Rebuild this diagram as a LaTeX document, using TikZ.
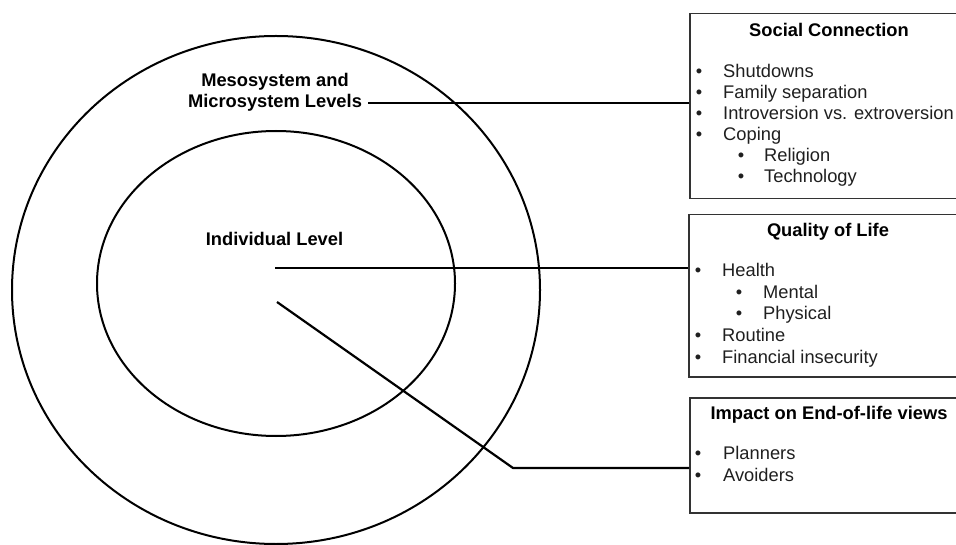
\documentclass[tikz,border=0pt]{standalone}
\usepackage{fontspec}
\setmainfont{Liberation Sans}
\usetikzlibrary{shapes.geometric}
\begin{document}
\begin{tikzpicture}[x=1pt,y=-1pt,
  lbl/.style={font=\fontsize{18.3}{21}\selectfont, inner sep=0pt, text=black!88},
  ttl/.style={font=\fontsize{18.3}{21}\selectfont\bfseries, inner sep=0pt, anchor=base, text=black},
  item/.style={lbl, anchor=base west},
  bul/.style={lbl, anchor=base},
  infobox/.style={draw=black!80, line width=1.5pt, anchor=north west, inner sep=0pt},
  ring/.style={draw, ellipse, line width=2pt, inner sep=0pt},
  link/.style={draw, line width=2.2pt}]
\useasboundingbox (0,0) rectangle (956,545);
\clip (0,0) rectangle (956,545);

% rings
\node[ring, minimum width=528pt, minimum height=508pt] (outer) at (276,290) {};
\node[ring, minimum width=358pt, minimum height=305pt] (inner) at (276,283.5) {};

% ring labels
\node[ttl] (meso1) at (275,87) {Mesosystem and};
\node[ttl] (meso2) at (275,107.5) {Microsystem Levels};
\node[ttl] (indiv) at (274.5,246) {Individual Level};

% boxes
\node[infobox, minimum width=281pt, minimum height=185pt] (box1) at (689,13) {};
\node[infobox, minimum width=282pt, minimum height=162pt] (box2) at (688,214) {};
\node[infobox, minimum width=281pt, minimum height=115pt] (box3) at (689,397) {};

% box 1
\node[ttl] (t1) at (829,36.5) {Social Connection};
\node[bul] (b11) at (699,78) {•};  \node[item] (s11) at (723,78) {Shutdowns};
\node[bul] (b12) at (699,99) {•};  \node[item] (s12) at (723,99) {Family separation};
\node[bul] (b13) at (699,120) {•}; \node[item] (s13) at (723,120) {Introversion vs. extroversion};
\node[bul] (b14) at (699,141) {•}; \node[item] (s14) at (723,141) {Coping};
\node[bul] (b15) at (741,162) {•}; \node[item] (s15) at (764,162) {Religion};
\node[bul] (b16) at (741,183) {•}; \node[item] (s16) at (764,183) {Technology};

% box 2
\node[ttl] (t2) at (828,236.5) {Quality of Life};
\node[bul] (b21) at (698,277) {•};   \node[item] (s21) at (722,277) {Health};
\node[bul] (b22) at (739,298.5) {•}; \node[item] (s22) at (763,298.5) {Mental};
\node[bul] (b23) at (739,320) {•};   \node[item] (s23) at (763,320) {Physical};
\node[bul] (b24) at (698,341.5) {•}; \node[item] (s24) at (722,341.5) {Routine};
\node[bul] (b25) at (698,363) {•};   \node[item] (s25) at (722,363) {Financial insecurity};

% box 3
\node[ttl] (t3) at (829,419.5) {Impact on End-of-life views};
\node[bul] (b31) at (698,459.5) {•}; \node[item] (s31) at (723,459.5) {Planners};
\node[bul] (b32) at (698,481.5) {•}; \node[item] (s32) at (723,481.5) {Avoiders};

% connectors
\coordinate (m1) at (368,103);
\draw[link] (m1) -- (m1 -| box1.west);
\coordinate (i1) at (275,268);
\draw[link] (i1) -- (i1 -| box2.west);
\coordinate (d1) at (277,302);
\coordinate (d2) at (513,468);
\draw[link] (d1) -- (d2) -- (d2 -| box3.west);
\end{tikzpicture}
\end{document}
